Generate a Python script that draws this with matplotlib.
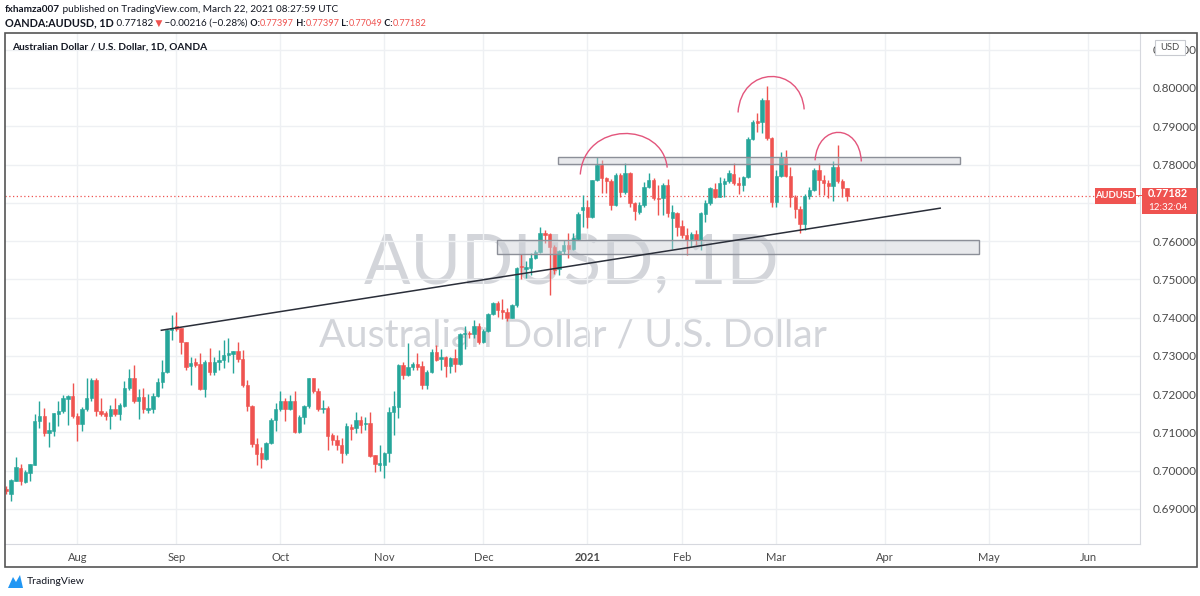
import numpy as np
import pandas as pd
import matplotlib
matplotlib.use('Agg')
import matplotlib.pyplot as plt
from matplotlib.patches import Rectangle, PathPatch, Polygon
from matplotlib.path import Path
from matplotlib.transforms import IdentityTransform

# daily OHLC, AUDUSD (OANDA), 13 Jul 2020 .. 22 Mar 2021
opens = [0.6952, 0.6940, 0.6974, 0.7007, 0.6970, 0.6994, 0.7016, 0.7129, 0.7142, 0.7098,
         0.7104, 0.7148, 0.7157, 0.7188, 0.7196, 0.7142, 0.7122, 0.7161, 0.7191, 0.7237,
         0.7157, 0.7150, 0.7143, 0.7161, 0.7149, 0.7170, 0.7216, 0.7242, 0.7181, 0.7192,
         0.7159, 0.7162, 0.7194, 0.7233, 0.7257, 0.7368, 0.7377, 0.7372, 0.7337, 0.7274,
         0.7283, 0.7278, 0.7214, 0.7285, 0.7259, 0.7285, 0.7288, 0.7302, 0.7306, 0.7314,
         0.7292, 0.7223, 0.7170, 0.7070, 0.7046, 0.7030, 0.7072, 0.7133, 0.7161, 0.7183,
         0.7161, 0.7183, 0.7101, 0.7140, 0.7168, 0.7242, 0.7209, 0.7162, 0.7164, 0.7094,
         0.7081, 0.7068, 0.7046, 0.7115, 0.7112, 0.7132, 0.7121, 0.7124, 0.7040, 0.7016,
         0.7016, 0.7047, 0.7153, 0.7167, 0.7276, 0.7250, 0.7272, 0.7278, 0.7274, 0.7224,
         0.7259, 0.7311, 0.7291, 0.7297, 0.7274, 0.7295, 0.7278, 0.7356, 0.7361, 0.7356,
         0.7378, 0.7337, 0.7366, 0.7409, 0.7438, 0.7420, 0.7416, 0.7400, 0.7433, 0.7535,
         0.7528, 0.7529, 0.7555, 0.7572, 0.7620, 0.7618, 0.7585, 0.7526, 0.7575, 0.7590,
         0.7579, 0.7605, 0.7681, 0.7690, 0.7664, 0.7760, 0.7799, 0.7764, 0.7758, 0.7694,
         0.7773, 0.7729, 0.7777, 0.7699, 0.7677, 0.7694, 0.7742, 0.7760, 0.7713, 0.7712,
         0.7747, 0.7660, 0.7673, 0.7639, 0.7616, 0.7605, 0.7618, 0.7603, 0.7672, 0.7699,
         0.7735, 0.7716, 0.7749, 0.7757, 0.7775, 0.7753, 0.7747, 0.7767, 0.7867, 0.7915,
         0.7910, 0.7969, 0.7869, 0.7703, 0.7770, 0.7821, 0.7770, 0.7716, 0.7685, 0.7645,
         0.7718, 0.7733, 0.7787, 0.7760, 0.7753, 0.7744, 0.7793, 0.7758, 0.77397]
highs = [0.6960, 0.6978, 0.7037, 0.7018, 0.7003, 0.7018, 0.7148, 0.7183, 0.7163, 0.7126,
         0.7150, 0.7181, 0.7198, 0.7198, 0.7229, 0.7150, 0.7166, 0.7241, 0.7241, 0.7241,
         0.7190, 0.7155, 0.7172, 0.7190, 0.7177, 0.7235, 0.7266, 0.7277, 0.7214, 0.7216,
         0.7200, 0.7203, 0.7242, 0.7290, 0.7370, 0.7406, 0.7414, 0.7374, 0.7337, 0.7298,
         0.7294, 0.7307, 0.7290, 0.7320, 0.7298, 0.7316, 0.7342, 0.7346, 0.7314, 0.7336,
         0.7316, 0.7237, 0.7172, 0.7085, 0.7063, 0.7074, 0.7139, 0.7177, 0.7207, 0.7190,
         0.7198, 0.7209, 0.7146, 0.7172, 0.7243, 0.7243, 0.7216, 0.7185, 0.7168, 0.7098,
         0.7094, 0.7085, 0.7124, 0.7121, 0.7154, 0.7143, 0.7141, 0.7154, 0.7040, 0.7067,
         0.7048, 0.7166, 0.7209, 0.7280, 0.7285, 0.7333, 0.7285, 0.7308, 0.7286, 0.7262,
         0.7318, 0.7328, 0.7318, 0.7301, 0.7298, 0.7319, 0.7360, 0.7377, 0.7365, 0.7395,
         0.7386, 0.7369, 0.7412, 0.7442, 0.7443, 0.7448, 0.7424, 0.7435, 0.7533, 0.7567,
         0.7548, 0.7568, 0.7577, 0.7637, 0.7629, 0.7620, 0.7590, 0.7577, 0.7603, 0.7620,
         0.7620, 0.7677, 0.7720, 0.7707, 0.7760, 0.7821, 0.7812, 0.7768, 0.7761, 0.7777,
         0.7777, 0.7803, 0.7781, 0.7703, 0.7703, 0.7755, 0.7777, 0.7764, 0.7746, 0.7751,
         0.7762, 0.7694, 0.7677, 0.7655, 0.7633, 0.7624, 0.7629, 0.7677, 0.7707, 0.7741,
         0.7751, 0.7768, 0.7764, 0.7786, 0.7803, 0.7768, 0.7770, 0.7873, 0.7916, 0.7934,
         0.7973, 0.8005, 0.7873, 0.7786, 0.7834, 0.7838, 0.7794, 0.7720, 0.7692, 0.7723,
         0.7742, 0.7790, 0.7803, 0.7773, 0.7760, 0.7808, 0.7851, 0.7761, 0.77397]
lows = [0.6938, 0.6920, 0.6972, 0.6962, 0.6968, 0.6972, 0.7014, 0.7111, 0.7090, 0.7063,
        0.7090, 0.7117, 0.7150, 0.7120, 0.7137, 0.7077, 0.7105, 0.7155, 0.7181, 0.7144,
        0.7142, 0.7133, 0.7110, 0.7142, 0.7133, 0.7167, 0.7211, 0.7177, 0.7136, 0.7150,
        0.7150, 0.7150, 0.7192, 0.7216, 0.7256, 0.7341, 0.7364, 0.7305, 0.7263, 0.7223,
        0.7272, 0.7211, 0.7192, 0.7249, 0.7250, 0.7263, 0.7268, 0.7283, 0.7255, 0.7285,
        0.7220, 0.7155, 0.7063, 0.7016, 0.7007, 0.7029, 0.7070, 0.7103, 0.7155, 0.7130,
        0.7159, 0.7098, 0.7098, 0.7122, 0.7165, 0.7203, 0.7155, 0.7150, 0.7055, 0.7068,
        0.7055, 0.7020, 0.7042, 0.7080, 0.7098, 0.7098, 0.7106, 0.7037, 0.6997, 0.6999,
        0.6982, 0.7023, 0.7093, 0.7137, 0.7240, 0.7248, 0.7263, 0.7263, 0.7213, 0.7213,
        0.7256, 0.7286, 0.7263, 0.7245, 0.7255, 0.7258, 0.7276, 0.7319, 0.7347, 0.7347,
        0.7331, 0.7334, 0.7363, 0.7407, 0.7402, 0.7396, 0.7392, 0.7398, 0.7429, 0.7500,
        0.7504, 0.7512, 0.7552, 0.7568, 0.7594, 0.7459, 0.7514, 0.7512, 0.7567, 0.7555,
        0.7577, 0.7603, 0.7637, 0.7634, 0.7660, 0.7758, 0.7725, 0.7725, 0.7681, 0.7692,
        0.7716, 0.7724, 0.7690, 0.7655, 0.7672, 0.7690, 0.7738, 0.7707, 0.7668, 0.7668,
        0.7664, 0.7579, 0.7612, 0.7607, 0.7563, 0.7585, 0.7590, 0.7577, 0.7651, 0.7694,
        0.7712, 0.7714, 0.7716, 0.7751, 0.7747, 0.7723, 0.7732, 0.7764, 0.7864, 0.7886,
        0.7882, 0.7864, 0.7690, 0.7690, 0.7768, 0.7768, 0.7690, 0.7660, 0.7622, 0.7629,
        0.7711, 0.7731, 0.7720, 0.7720, 0.7712, 0.7705, 0.7751, 0.7716, 0.77049]
closes = [0.6946, 0.6976, 0.7009, 0.6972, 0.6996, 0.7018, 0.7129, 0.7142, 0.7098, 0.7107,
          0.7150, 0.7157, 0.7190, 0.7196, 0.7142, 0.7122, 0.7161, 0.7191, 0.7237, 0.7157,
          0.7148, 0.7143, 0.7162, 0.7149, 0.7172, 0.7216, 0.7242, 0.7181, 0.7192, 0.7162,
          0.7163, 0.7196, 0.7233, 0.7259, 0.7368, 0.7374, 0.7371, 0.7337, 0.7272, 0.7281,
          0.7277, 0.7214, 0.7285, 0.7259, 0.7285, 0.7290, 0.7303, 0.7307, 0.7314, 0.7292,
          0.7223, 0.7170, 0.7070, 0.7043, 0.7030, 0.7072, 0.7133, 0.7161, 0.7183, 0.7161,
          0.7183, 0.7101, 0.7140, 0.7170, 0.7242, 0.7209, 0.7162, 0.7165, 0.7092, 0.7081,
          0.7068, 0.7046, 0.7118, 0.7110, 0.7132, 0.7119, 0.7124, 0.7039, 0.7018, 0.7019,
          0.7047, 0.7153, 0.7168, 0.7276, 0.7250, 0.7272, 0.7278, 0.7272, 0.7224, 0.7259,
          0.7311, 0.7290, 0.7297, 0.7274, 0.7295, 0.7278, 0.7356, 0.7361, 0.7356, 0.7378,
          0.7337, 0.7366, 0.7409, 0.7438, 0.7420, 0.7416, 0.7400, 0.7433, 0.7529, 0.7531,
          0.7533, 0.7555, 0.7572, 0.7620, 0.7616, 0.7585, 0.7524, 0.7575, 0.7590, 0.7579,
          0.7607, 0.7672, 0.7690, 0.7664, 0.7760, 0.7799, 0.7764, 0.7758, 0.7694, 0.7773,
          0.7729, 0.7777, 0.7699, 0.7679, 0.7694, 0.7742, 0.7760, 0.7712, 0.7710, 0.7747,
          0.7674, 0.7675, 0.7638, 0.7616, 0.7603, 0.7618, 0.7603, 0.7674, 0.7699, 0.7738,
          0.7716, 0.7751, 0.7757, 0.7777, 0.7751, 0.7747, 0.7767, 0.7868, 0.7912, 0.7909,
          0.7969, 0.7869, 0.7703, 0.7770, 0.7821, 0.7770, 0.7716, 0.7685, 0.7645, 0.7718,
          0.7733, 0.7787, 0.7760, 0.7752, 0.7744, 0.7793, 0.7758, 0.7738, 0.77182]

first_day = '2020-07-13'
last_axis_day = '2021-06-30'
holidays = ['2020-12-25', '2021-01-01']
month_labels = ['Aug', 'Sep', 'Oct', 'Nov', 'Dec', '2021', 'Feb', 'Mar', 'Apr', 'May', 'Jun']
price_ticks = [0.69, 0.70, 0.71, 0.72, 0.73, 0.74, 0.75, 0.76, 0.77, 0.78, 0.79, 0.80, 0.81]
last_price = 0.77182
countdown = '12:32:04'

# drawings, in (bar index, price)
trend_x = [32.8, 197.7]
trend_y = [0.7367, 0.7686]
zone_top_x = [116.8, 201.9]
zone_top_y = [0.78021, 0.78204]
zone_bot_x = [103.9, 205.9]
zone_bot_y = [0.75666, 0.76031]
arcs_x = [[121.5, 129.9, 139.9], [154.9, 161.7, 168.9], [171.2, 177.1, 181.0]]
arcs_y = [[0.7774, 0.7881, 0.7792], [0.7936, 0.8030, 0.7944], [0.7811, 0.7884, 0.7808]]

GREEN = '#26a69a'
RED = '#ef5350'
DARK = '#131722'
W, H = 1200, 596

plt.rcParams['font.family'] = ['Lato', 'DejaVu Sans']

fig = plt.figure(figsize=(W / 100, H / 100), dpi=100)
fig.patch.set_facecolor('white')
ax = fig.add_axes([5 / W, 1 - 544 / H, 1135 / W, 511 / H])

o = np.array(opens)
hi = np.array(highs)
lo = np.array(lows)
c = np.array(closes)
idx = np.arange(len(c))
cols = np.where(c >= o, GREEN, RED)

ax.vlines(idx, lo, hi, colors=cols, lw=1, zorder=3)
body_lo = np.minimum(o, c)
body_h = np.maximum(np.abs(c - o), 0.0002)
ax.bar(idx, body_h, bottom=body_lo, width=0.72, color=cols, edgecolor=cols, lw=0.4, zorder=4)

# trading calendar -> month tick positions
days = pd.bdate_range(first_day, last_axis_day)
days = days[~days.isin(pd.to_datetime(holidays))]
firsts = pd.Series(np.arange(len(days)), index=days).groupby([days.year, days.month]).first()
month_pos = firsts.values[1:1 + len(month_labels)]

ax.set_xlim(-0.3, 240)
ax.set_ylim(0.68085, 0.81437)
ax.set_xticks(month_pos)
ax.set_xticklabels(month_labels)
for lab in ax.get_xticklabels():
    if lab.get_text() == '2021':
        lab.set_fontweight('bold')
ax.set_yticks(price_ticks)
# the 0.77 label sits under the last-price badge, so it is left blank
ax.set_yticklabels(['' if abs(p - last_price) < 0.004 else '{:.5f}'.format(p)
                    for p in price_ticks])
ax.yaxis.tick_right()
ax.tick_params(axis='x', length=0, pad=6, labelsize=8, labelcolor='#4a4a4a')
ax.tick_params(axis='y', length=0, pad=9, labelsize=8.5, labelcolor='#4a4a4a')
ax.grid(True, color='#eef0f3', lw=1, zorder=0)
ax.set_axisbelow(True)
for s in ['left', 'top']:
    ax.spines[s].set_visible(False)
for s in ['right', 'bottom']:
    ax.spines[s].set_color('#d6d8de')

ID = IdentityTransform()

# watermark
fig.text(571, H - 284, 'AUDUSD, 1D', transform=ID, ha='center', va='baseline',
         fontsize=49.5, color='#d3d5da', zorder=1)
fig.text(573, H - 347, 'Australian Dollar / U.S. Dollar', transform=ID,
         ha='center', va='baseline', fontsize=28.3, color='#d3d5da', zorder=1)
ax.set_zorder(2)
ax.patch.set_alpha(0)

# drawings
ax.plot(trend_x, trend_y, color='#2a2e39', lw=1.1, zorder=6)
for zx, zy in [(zone_top_x, zone_top_y), (zone_bot_x, zone_bot_y)]:
    ax.add_patch(Rectangle((zx[0], zy[0]), zx[1] - zx[0], zy[1] - zy[0],
                           facecolor=(0.80, 0.81, 0.84, 0.45), edgecolor='#8c8f98',
                           lw=1, zorder=5))
for ax_x, ax_y in zip(arcs_x, arcs_y):
    x0, xm, x1 = ax_x
    y0, ym, y1 = ax_y
    hy = (8 * ym - y0 - y1) / 6
    verts = [(x0, y0), (x0 + (xm - x0) * 0.1, hy), (x1 - (x1 - xm) * 0.1, hy), (x1, y1)]
    path = Path(verts, [Path.MOVETO, Path.CURVE4, Path.CURVE4, Path.CURVE4])
    ax.add_patch(PathPatch(path, fill=False, edgecolor='#e3557c', lw=1, zorder=6))

# last price line and labels
ax.axhline(last_price, color=RED, lw=0.9, ls=(0, (1, 2)), zorder=2)
fig.canvas.draw()
ly = ax.transData.transform((0, last_price))[1]
fig.add_artist(Rectangle((1095, ly - 8), 41, 16, transform=ID, facecolor=RED,
                         edgecolor='none', zorder=8))
fig.text(1115.5, ly, 'AUDUSD', transform=ID, ha='center', va='center', color='white',
         fontsize=6.8, fontweight='bold', zorder=9)
fig.add_artist(Rectangle((1142, ly - 18), 55, 26, transform=ID, facecolor=RED,
                         edgecolor='none', zorder=8))
fig.text(1148, ly + 2, '{:.5f}'.format(last_price), transform=ID, ha='left', va='center',
         color='white', fontsize=7.8, fontweight='bold', zorder=9)
fig.text(1148, ly - 11.5, countdown, transform=ID, ha='left', va='center',
         color='white', fontsize=7, zorder=9)
fig.add_artist(Rectangle((1136, ly - 0.5), 6, 1, transform=ID, facecolor=RED,
                         edgecolor='none', zorder=8))

# currency badge over the top price label
fig.add_artist(Rectangle((1155, H - 55), 30, 15, transform=ID, facecolor='white',
                         edgecolor='#c8cad0', lw=0.8, zorder=8))
fig.text(1170, H - 47.5, 'USD', transform=ID, ha='center', va='center', color='#4a4a4a',
         fontsize=6.8, zorder=9)

# chart title inside the pane
fig.text(12, H - 47, 'Australian Dollar / U.S. Dollar, 1D, OANDA', transform=ID,
         ha='left', va='center', color=DARK, fontsize=7.3, fontweight='bold', zorder=6)

# outer frame
fig.add_artist(Rectangle((5, H - 567), 1192, 534, transform=ID, fill=False,
                         edgecolor='#555555', lw=1.2, zorder=7))


def put_parts(x, y, parts):
    r = fig.canvas.get_renderer()
    for s, col, wt, size in parts:
        t = fig.text(x, H - y, s, transform=ID, ha='left', va='center', color=col,
                     fontsize=size, fontweight=wt)
        x = t.get_window_extent(r).x1


put_parts(5, 9, [('fxhamza007', DARK, 'bold', 7.2),
                 (' published on TradingView.com, March 22, 2021 08:27:59 UTC', DARK, 'normal', 7.2)])
put_parts(5, 23, [('OANDA:AUDUSD, 1D', DARK, 'bold', 7.8),
                  (' 0.77182', DARK, 'normal', 7.1),
                  (' \u25bc', RED, 'normal', 6.6),
                  (' \u22120.00216 (\u22120.28%)', DARK, 'normal', 7.1),
                  (' O:', DARK, 'bold', 6.6), ('0.77397', RED, 'normal', 6.6),
                  (' H:', DARK, 'bold', 6.6), ('0.77397', RED, 'normal', 6.6),
                  (' L:', DARK, 'bold', 6.6), ('0.77049', RED, 'normal', 6.6),
                  (' C:', DARK, 'bold', 6.6), ('0.77182', RED, 'normal', 6.6)])

# TradingView logo
fig.add_artist(Polygon([(8, H - 588), (13, H - 577), (16, H - 582), (20, H - 575),
                        (23, H - 588)], closed=True, transform=ID, facecolor='#2196f3',
                       edgecolor='none'))
fig.text(27, H - 581, 'TradingView', transform=ID, ha='left', va='center', color=DARK,
         fontsize=7.5)

fig.savefig('out.png', dpi=100, facecolor='white')
